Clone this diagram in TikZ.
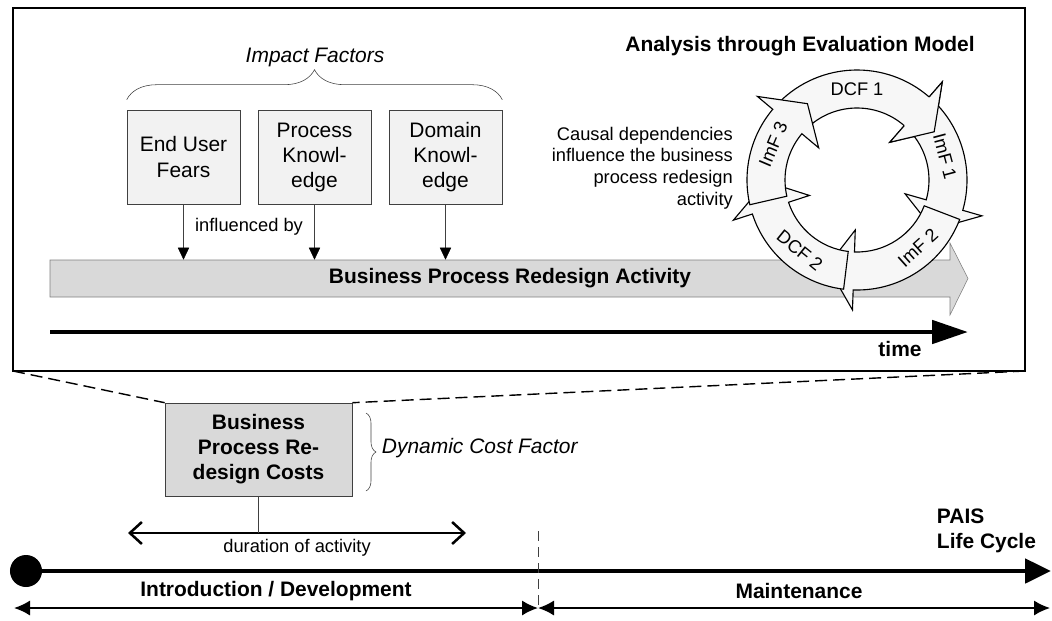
\documentclass[tikz,border=0pt]{standalone}
\usepackage{fontspec}
\setmainfont{Liberation Sans}
\usetikzlibrary{arrows.meta,decorations.pathreplacing}

\definecolor{boxfill}{HTML}{F2F2F2}
\definecolor{barfill}{HTML}{D9D9D9}
\definecolor{ringfill}{HTML}{F7F7F7}
\definecolor{edgegray}{HTML}{404040}

\newcommand{\largefnt}{\fontsize{14.9}{17.8}\selectfont}
\newcommand{\smallfnt}{\fontsize{13}{15.3}\selectfont}

\begin{document}
\begin{tikzpicture}[x=0.025cm, y=0.025cm,
    factor/.style={draw=edgegray, fill=boxfill, minimum width=2.825cm, minimum height=2.35cm, align=center, font=\largefnt},
    infl/.style={draw=edgegray, -{Triangle[length=0.3cm,width=0.28cm,black]}},
    ring/.style={draw=black, fill=ringfill, line width=0.8pt}]
    \useasboundingbox (0,0) rectangle (1052,-620);

    \draw[line width=1.4pt] (13,-8) rectangle (1025,-371);
    \coordinate (fl) at (13,-371);
    \coordinate (fr) at (1025,-371);

    \node[factor] (fears) at (183.5,-157) {End User\\Fears};
    \node[factor] (proc) at (314.5,-157) {Process\\Knowl-\\edge};
    \node[factor] (dom) at (445.5,-157) {Domain\\Knowl-\\edge};
    \draw[edgegray, decorate, decoration={brace,amplitude=0.75cm}] ([yshift=0.25cm]fears.north west) -- ([yshift=0.25cm]dom.north east);
    \node[font=\largefnt\itshape] (impact) at (315,-57) {Impact Factors};

    \draw[draw=black!50, fill=barfill] (50,-260) -- (950,-260) -- (950,-243) -- (968,-278.5) -- (950,-315) -- (950,-297) -- (50,-297) -- cycle;
    \node[font=\largefnt\bfseries, minimum height=0.925cm] (act) at (510,-278.5) {Business Process Redesign Activity};

    \foreach \f in {fears,proc,dom}
        \draw[infl] (\f.south) -- (\f.south |- act.north);
    \node[font=\smallfnt] (inflby) at (249,-227) {influenced by};

    \node[font=\largefnt\bfseries] (model) at (800,-46) {Analysis through Evaluation Model};
    \node[font=\smallfnt, align=right, anchor=east, inner sep=0pt] (causal) at (733,-168)
        {Causal dependencies\\influence the business\\process redesign\\activity};

    \begin{scope}[shift={(857,-180)}]
        \foreach \ta/\hb in {135/49, 44/-16, -21/-92, -97/-162, -167/-220}
            \filldraw[ring] (\ta:110) arc[start angle=\ta, end angle=\hb, radius=110]
                -- (\hb:130) -- ({\hb-17}:91) -- (\hb:50) -- (\hb:72)
                arc[start angle=\hb, end angle=\ta, radius=72] -- cycle;
        \fill[ringfill] (49:130) -- (32:91) -- (49:50) -- cycle;
        \draw[line width=0.8pt] (49:110) -- (49:130) -- (32:91) -- (49:50) -- (49:72);
        \foreach \ang/\rot/\txt/\nm in {90/0/DCF 1/dcfa, 15/-75/ImF 1/imfa, -48/42/ImF 2/imfb, -129/-39/DCF 2/dcfb, 157/67/ImF 3/imfc}
            \node[rotate=\rot, font=\smallfnt] (\nm) at (\ang:91) {\txt};
    \end{scope}

    \coordinate (t0) at (50,-332);
    \coordinate (t1) at (968,-332);
    \draw[line width=3.5pt, -{Triangle[length=0.9cm,width=0.575cm]}] (t0) -- (t1);
    \node[font=\largefnt\bfseries] (time) at (900,-349) {time};

    \node[draw=edgegray, fill=barfill, minimum width=4.675cm, minimum height=2.325cm, align=center, font=\largefnt\bfseries] (cost) at (258.5,-449.5) {Business\\Process Re-\\design Costs};
    \draw[line width=1pt, dash pattern=on 0.3cm off 0.15cm] (fl) -- (cost.north west);
    \draw[line width=1pt, dash pattern=on 0.3cm off 0.15cm] (fr) -- (cost.north east);
    \draw[edgegray, decorate, decoration={brace,amplitude=0.25cm}] (366,-413) -- (366,-491);
    \node[font=\largefnt\itshape, anchor=west] (dyn) at (377,-448) {Dynamic Cost Factor};

    \coordinate (d0) at (128,-533);
    \coordinate (d1) at (466,-533);
    \draw[line width=1.8pt, {Straight Barb[length=0.3cm,width=0.55cm]}-{Straight Barb[length=0.3cm,width=0.55cm]}] (d0) -- (d1);
    \draw[edgegray, line width=0.8pt] (cost.south) -- (cost.south |- d0);
    \node[font=\smallfnt] (dur) at (297,-548) {duration of activity};

    \node[circle, fill=black, minimum size=0.8cm, inner sep=0pt] (start) at (26,-571) {};
    \coordinate (lcend) at (1051,-571);
    \draw[line width=3.5pt, -{Triangle[length=0.65cm,width=0.6cm]}] (start) -- (lcend);
    \node[font=\largefnt\bfseries, align=left, anchor=west] (pais) at (932,-531) {PAIS\\Life Cycle};

    \coordinate (m0) at (538,-531);
    \coordinate (m1) at (538,-608);
    \coordinate (p0) at (14,-608);
    \coordinate (p1) at (1050,-608);
    \draw[edgegray, line width=0.6pt, dash pattern=on 0.25cm off 0.15cm] (m0) -- (m1);
    \draw[line width=1.3pt, {Latex[length=0.4cm,width=0.38cm]}-{Latex[length=0.4cm,width=0.38cm]}] (p0) -- (m1);
    \draw[line width=1.3pt, {Latex[length=0.4cm,width=0.38cm]}-{Latex[length=0.4cm,width=0.38cm]}] (m1) -- (p1);
    \node[font=\largefnt\bfseries] (intro) at (276,-591) {Introduction / Development};
    \node[font=\largefnt\bfseries] (maint) at (799,-591) {Maintenance};
\end{tikzpicture}
\end{document}
